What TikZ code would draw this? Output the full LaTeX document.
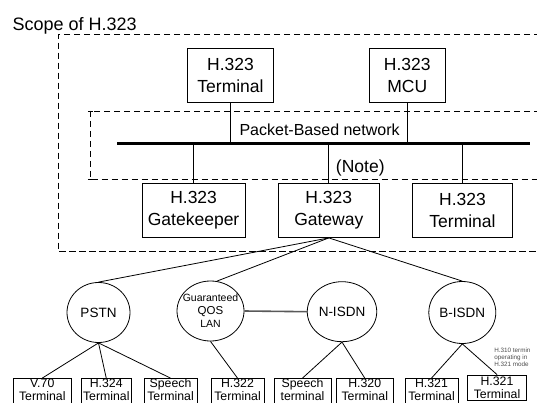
\documentclass[tikz,border=0pt]{standalone}
\usepackage{fontspec}
\setmainfont{Liberation Sans}
\usetikzlibrary{shapes.geometric}
\begin{document}
\begin{tikzpicture}[x=1pt,y=-1pt,line width=0.8pt,
  bigbox/.style={draw,fill=white,rectangle,inner sep=0pt,align=center,
    minimum height=54pt,font=\fontsize{17.5}{22}\selectfont},
  smallbox/.style={draw,fill=white,rectangle,inner sep=0pt,align=center,
    minimum height=26pt,text depth=4pt,font=\fontsize{12.3}{13}\selectfont},
  net/.style={draw,fill=white,ellipse,inner sep=0pt,minimum height=60pt},
  netlabel/.style={inner sep=0pt,align=center,font=\fontsize{13.5}{15}\selectfont},
  scopeline/.style={dash pattern=on 6.5pt off 3.5pt},
  bus/.style={line width=2.6pt},
  lanlink/.style={line width=1.6pt,draw=black!65},
]
\useasboundingbox (0,0) rectangle (537,403);
\clip (0,0) rectangle (537,403);

% scope title
\node[anchor=base west,inner sep=0pt,font=\fontsize{18}{20}\selectfont] (scope) at (12.3,30.7) {Scope of H.323};

% dashed frames: scope of H.323 and the packet-based network
\draw[scopeline] (560,34.3) -- (58.3,34.3) -- (58.3,251.5) -- (560,251.5);
\draw[scopeline] (560,111) -- (90,111) -- (90,179.5) -- (560,179.5);
\draw (87.8,111) -- (92.5,111) (87.8,179.5) -- (92.5,179.5);

% network bus
\coordinate (busL) at (117.3,143.3);
\coordinate (busR) at (529.7,143.3);
\draw[bus] (busL) -- (busR);

% H.323 entities
\node[bigbox,minimum width=86.4pt] (tterm) at (230.5,75.2) {H.323\\Terminal};
\node[bigbox,minimum width=76pt] (mcu) at (407.3,75.2) {H.323\\MCU};
\node[bigbox,minimum width=102.7pt] (gk) at (193.6,210.5) {H.323\\Gatekeeper};
\node[bigbox,minimum width=101pt] (gw) at (328.8,210.5) {H.323\\Gateway};
\node[bigbox,minimum width=100.4pt] (bterm) at (462.5,210.5) {H.323\\Terminal};

\draw (tterm.south) -- (tterm.south |- busL);
\draw (mcu.south) -- (mcu.south |- busL);
\draw (gk.north) -- (gk.north |- busL);
\draw (gw.north) -- (gw.north |- busL);
\draw (bterm.north) -- (bterm.north |- busL);

\node[anchor=base,inner sep=0pt,font=\fontsize{16}{18}\selectfont] (pbn) at (319.6,136) {Packet-Based network};
\node[anchor=base,inner sep=0pt,font=\fontsize{17.5}{20}\selectfont] (note) at (360.3,173) {(Note)};

% switched networks
\node[net,minimum width=63pt] (pstn) at (98.5,312.5) {};
\node[net,minimum width=67pt] (qos) at (210.5,311) {};
\node[net,minimum width=69.5pt] (nisdn) at (342,311.7) {};
\node[net,minimum width=67pt,minimum height=62pt] (bisdn) at (462.3,312.5) {};

\node[netlabel] (pstnl) at (pstn) {PSTN};
\node[netlabel,font=\fontsize{10.5}{13}\selectfont] (qosl) at (210.5,310.6)
  {Guaranteed\\\fontsize{11.5}{13}\selectfont QOS\\LAN};
\node[netlabel] (nisdnl) at (nisdn) {N-ISDN};
\node[netlabel] (bisdnl) at (bisdn) {B-ISDN};

\draw (gw.south) -- (pstn.north);
\draw (gw.south) -- (qos.78);
\draw (gw.south) -- (bisdn.north);
\draw[lanlink] (qos.east) -- (nisdn.west);

% terminals
\node[smallbox,minimum width=57.5pt] (v70) at (42.25,391.5) {V.70\\Terminal};
\node[smallbox,minimum width=49.5pt] (h324) at (106.25,391.5) {H.324\\Terminal};
\node[smallbox,minimum width=53pt] (sp1) at (170.5,391.5) {Speech\\Terminal};
\node[smallbox,minimum width=53pt] (h322) at (237.5,391.5) {H.322\\Terminal};
\node[smallbox,minimum width=57pt] (sp2) at (302.5,391.5) {Speech\\terminal};
\node[smallbox,minimum width=56.5pt] (h320) at (364.75,391.5) {H.320\\Terminal};
\node[smallbox,minimum width=53pt] (h321a) at (431.5,391.5) {H.321\\Terminal};
\node[smallbox,minimum width=59pt,minimum height=25.5pt,text depth=1pt,line width=1.4pt] (h321b) at (497,388) {H.321\\Terminal};

\draw (pstn.south) -- (v70.north);
\draw (pstn.south) -- (h324.north);
\draw (pstn.south) -- (sp1.north);
\draw (qos.south) -- (h322.north);
\draw (nisdn.south) -- (sp2.north);
\draw (nisdn.south) -- (h320.north);
\draw (bisdn.south) -- (h321a.north);
\draw (bisdn.south) -- (h321b.north);

\node[anchor=north west,align=left,inner sep=0pt,text=black!70,
  font=\fontsize{6.3}{6.8}\selectfont] (h310) at (494,347.5)
  {H.310 termin\\operating in\\H.321 mode};
\end{tikzpicture}
\end{document}
